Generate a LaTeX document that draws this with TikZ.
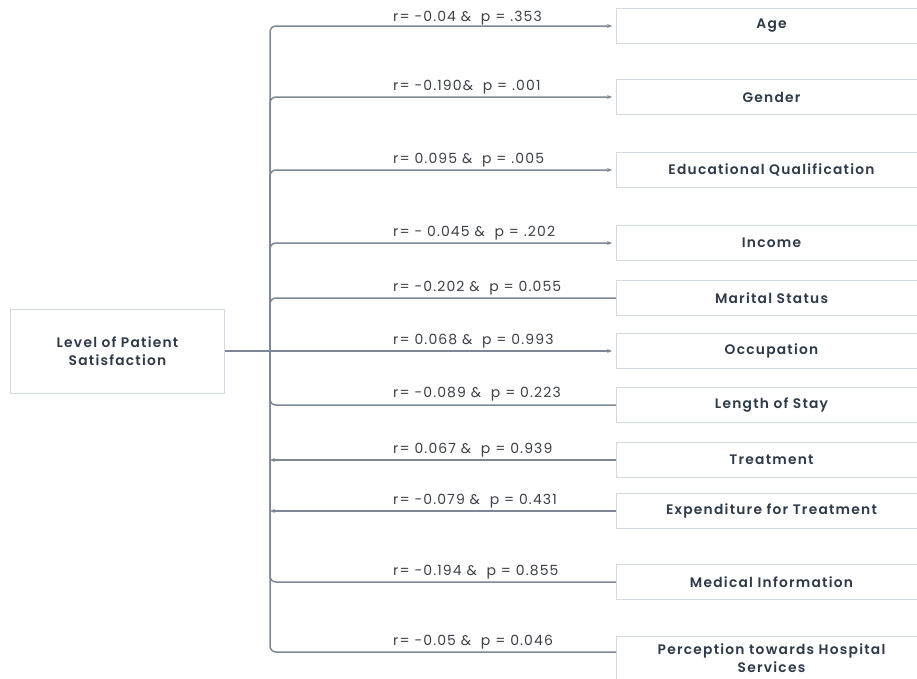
\documentclass[tikz,border=0pt]{standalone}
\usepackage{fontspec}
\setmainfont{Poppins}
\newfontfamily\lblfont[LetterSpace=8]{Poppins}
\newfontfamily\boxfont[LetterSpace=9]{Poppins SemiBold}
\usetikzlibrary{arrows.meta}
\definecolor{lineC}{HTML}{7D8896}
\definecolor{boxC}{HTML}{D3D9E0}
\definecolor{txtC}{HTML}{2E3A48}
\definecolor{lblC}{HTML}{3C4048}
\tikzset{
  box/.style={draw=boxC, line width=1pt, minimum width=310pt, minimum height=35pt, inner sep=0pt,
    font=\boxfont\fontsize{13.8}{18}\selectfont, text=txtC, anchor=west, align=center},
  conn/.style={draw=lineC, line width=1.5pt, rounded corners=6pt},
  arr/.style={-{Stealth[length=5pt,width=4pt]}, shorten >=4pt},
  lbl/.style={font=\lblfont\fontsize{14}{16}\selectfont, text=lblC, anchor=base west, inner sep=0pt}
}
\begin{document}
\begin{tikzpicture}[x=1pt,y=-1pt]
\useasboundingbox (0,0) rectangle (917,678);
\clip (0,0) rectangle (917,678);
\fill[white] (0,0) rectangle (917,678);

\node[box, minimum width=214pt, minimum height=84pt] (L) at (10,351) {Level of Patient\\Satisfaction};
\coordinate (J) at (270,351);

\node[box] (age) at (616,26) {Age};
\node[box] (gen) at (616,97) {Gender};
\node[box] (edu) at (616,170) {Educational Qualification};
\node[box] (inc) at (616,243) {Income};
\node[box] (mar) at (616,298) {Marital Status};
\node[box] (occ) at (616,351) {Occupation};
\node[box] (len) at (616,405) {Length of Stay};
\node[box] (tre) at (616,460) {Treatment};
\node[box] (exp) at (616,511) {Expenditure for Treatment};
\node[box] (med) at (616,582) {Medical Information};
\node[box, minimum height=44pt] (per) at (616,658) {Perception towards Hospital\\Services};

\draw[conn] (L.east) -- (J);
\draw[conn, arr] (J) |- (age.west);
\draw[conn, arr] (J) |- (gen.west);
\draw[conn, arr] (J) |- (edu.west);
\draw[conn, arr] (J) |- (inc.west);
\draw[conn] (J) |- (mar.west);
\draw[conn, arr] (J) -- (occ.west);
\draw[conn] (J) |- (len.west);
\draw[conn, -{Stealth[length=5pt,width=4pt]}] (tre.west) -- (tre.west -| J);
\draw[conn, -{Stealth[length=5pt,width=4pt]}] (exp.west) -- (exp.west -| J);
\draw[conn] (J) |- (med.west);
\draw[conn] (J) |- ([yshift=6pt]per.west);

\node[lbl] (l1) at (393,21) {r= -0.04 \&\ \ p = .353};
\node[lbl] (l2) at (393,90) {r= -0.190\&\ \ p = .001};
\node[lbl] (l3) at (393,163) {r= 0.095 \&\ \ p = .005};
\node[lbl] (l4) at (393,236) {r= - 0.045 \&\ \ p = .202};
\node[lbl] (l5) at (393,291) {r= -0.202 \&\ \ p = 0.055};
\node[lbl] (l6) at (393,344) {r= 0.068 \&\ \ p = 0.993};
\node[lbl] (l7) at (393,397) {r= -0.089 \&\ \ p = 0.223};
\node[lbl] (l8) at (393,453) {r= 0.067 \&\ \ p = 0.939};
\node[lbl] (l9) at (393,504) {r= -0.079 \&\ \ p = 0.431};
\node[lbl] (l10) at (393,575) {r= -0.194 \&\ \ p = 0.855};
\node[lbl] (l11) at (393,645) {r= -0.05 \&\ \ p = 0.046};
\end{tikzpicture}
\end{document}
